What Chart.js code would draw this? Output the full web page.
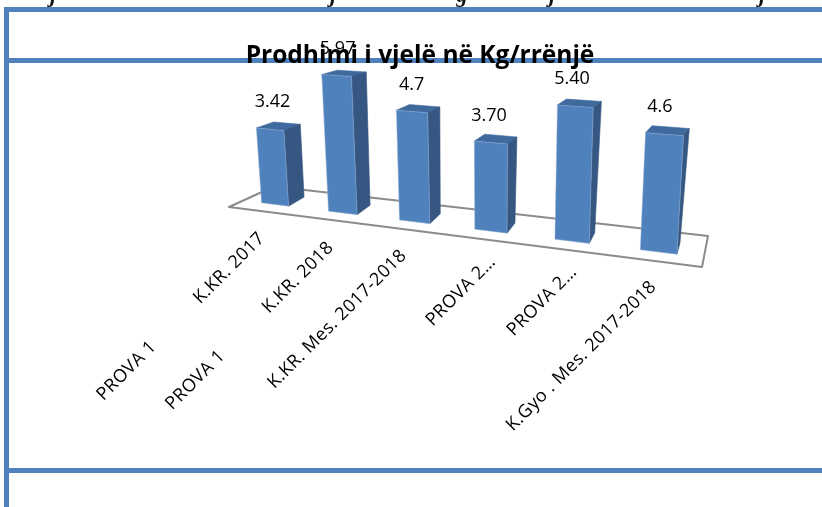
<!DOCTYPE html>
<html><head><meta charset="utf-8">
<style>html,body{margin:0;padding:0;background:#fff;overflow:hidden}#w{position:relative;width:822px;height:507px}</style>
<script src="https://cdn.jsdelivr.net/npm/chart.js@4"></script>
</head><body><div id="w"><canvas id="c" width="822" height="507"></canvas></div>
<script>
const chartTitle = "Prodhimi i vjelë në Kg/rrënjë";
const categories = [
  "PROVA 1            K.KR. 2017",
  "PROVA 1            K.KR. 2018",
  "K.KR. Mes. 2017-2018",
  "PROVA 2…",
  "PROVA 2…",
  "K.Gyo . Mes. 2017-2018"
];
const seriesValues = [3.42, 5.97, 4.7, 3.70, 5.40, 4.6];
const valueLabels = ["3.42", "5.97", "4.7", "3.70", "5.40", "4.6"];
const clippedHeadingGlyphs = ["j", "j", "g", "j", "j"];

// perspective of the 3D scene: where (first/last category, value 0/6) land
const frontQuad = [[275,204.5],[658.5,252],[666.3,96.6],[266.2,70.1]];
const backQuad  = [[291,195.5],[662,241],[673.3,90.6],[283.7,66.1]];
const floorQuad = [[229,207],[702,267],[708,236],[274,186.5]];
const tickAnchorShift = [[-13,31],[-12,32],[-11,31],[2,28],[2,28],[-5,32]];
const headingX = [53,333,462,552,762];

function homography(q){
  const [[x0,y0],[x1,y1],[x2,y2],[x3,y3]] = q;
  const dx1=x1-x2,dx2=x3-x2,dx3=x0-x1+x2-x3,dy1=y1-y2,dy2=y3-y2,dy3=y0-y1+y2-y3;
  const den=dx1*dy2-dx2*dy1;
  const g=(dx3*dy2-dx2*dy3)/den,h=(dx1*dy3-dx3*dy1)/den;
  const a=x1-x0+g*x1,b=x3-x0+h*x3,c=x0,d=y1-y0+g*y1,e=y3-y0+h*y3,f=y0;
  return (s,t)=>{const w=g*s+h*t+1;return [(a*s+b*t+c)/w,(d*s+e*t+f)/w];};
}
const Hf=homography(frontQuad),Hb=homography(backQuad);
const P=(s,t,back)=>back?Hb(s,t):Hf(s,t);
function poly(ctx,pts,fill,stroke){
  ctx.beginPath();pts.forEach((p,i)=>i?ctx.lineTo(p[0],p[1]):ctx.moveTo(p[0],p[1]));ctx.closePath();
  if(fill){ctx.fillStyle=fill;ctx.fill();}
  if(stroke){ctx.strokeStyle=stroke;ctx.lineWidth=1;ctx.stroke();}
}
const BLUE="#4f81bd";
function norm(chart){
  const x=chart.scales.x,y=chart.scales.y;
  const x0=x.getPixelForValue(0),x1=x.getPixelForValue(categories.length-1);
  const v0=y.getPixelForValue(0),v1=y.getPixelForValue(6);
  return {s:u=>(u-x0)/(x1-x0),t:v=>(v0-v)/(v0-v1)};
}
const scene={
  id:"scene",
  beforeDraw(chart){
    const c=chart.ctx;c.save();
    c.fillStyle="#fff";c.fillRect(0,0,822,507);
    c.fillStyle="#111";c.font='italic bold 22px "Liberation Serif"';c.textAlign="center";c.textBaseline="alphabetic";
    clippedHeadingGlyphs.forEach((g,i)=>c.fillText(g,headingX[i],2));
    c.fillStyle=BLUE;
    c.fillRect(4,7,818,5);
    c.fillRect(4,7,5,500);
    c.fillRect(9,58,813,5);
    c.fillRect(9,468,813,5);
    c.restore();
  },
  beforeDatasetDraw(chart,args){
    const c=chart.ctx,n=norm(chart),meta=chart.getDatasetMeta(args.index);
    const ds=chart.data.datasets[args.index];
    c.save();
    c.lineJoin="round";
    c.beginPath();floorQuad.forEach((p,i)=>i?c.lineTo(p[0],p[1]):c.moveTo(p[0],p[1]));c.closePath();
    c.fillStyle="#fff";c.fill();c.strokeStyle="#8c8c8c";c.lineWidth=2;c.stroke();
    meta.data.forEach(el=>{
      const s=n.s(el.x),t=n.t(el.y),b=n.t(el.base);
      const hw=n.s(el.x+el.width/2)-s;
      const FL=P(s-hw,b,0),FR=P(s+hw,b,0),TL=P(s-hw,t,0),TR=P(s+hw,t,0);
      const BR=P(s+hw,b,1),BTR=P(s+hw,t,1),BTL=P(s-hw,t,1);
      poly(c,[TL,TR,BTR,BTL],"#3f6a9e","rgba(63,106,158,.6)");
      poly(c,[TR,FR,BR,BTR],"#355781","rgba(53,87,129,.6)");
      poly(c,[FL,FR,TR,TL],ds.backgroundColor,"rgba(150,178,214,.5)");
    });
    c.restore();
    return false;
  },
  afterDatasetsDraw(chart){
    const c=chart.ctx,n=norm(chart),meta=chart.getDatasetMeta(0),x=chart.scales.x;
    c.save();
    c.fillStyle="#000";c.font='18px "Open Sans"';c.textAlign="center";c.textBaseline="middle";
    meta.data.forEach((el,i)=>{
      const s=n.s(el.x),p=P(s,n.t(el.y),0);
      c.fillText(valueLabels[i],p[0]+2.5-7*s,p[1]-27);
    });
    c.font='18px "Open Sans"';c.textAlign="right";c.letterSpacing="0.4px";
    x.ticks.forEach((tk,i)=>{
      const p=P(n.s(x.getPixelForTick(i)),0,0),d=tickAnchorShift[i];
      c.save();c.translate(p[0]+d[0],p[1]+d[1]);c.rotate(-Math.PI/4);
      c.fillText(x.getLabelForValue(tk.value),0,0);c.restore();
    });
    c.restore();
  }
};
new Chart(document.getElementById("c"),{
  type:"bar",
  data:{labels:categories,datasets:[{data:seriesValues,backgroundColor:BLUE,categoryPercentage:1,barPercentage:.41}]},
  options:{
    responsive:false,animation:false,
    layout:{padding:{left:18,top:0}},
    plugins:{legend:{display:false},tooltip:{enabled:false},
      title:{display:true,text:chartTitle,color:"#000",font:{family:"Open Sans",size:24.5,weight:"bold"},padding:{top:41,bottom:4}}},
    scales:{
      x:{display:false,ticks:{autoSkip:false}},
      y:{display:false,min:0,max:6}
    }
  },
  plugins:[scene]
});
</script></body></html>
